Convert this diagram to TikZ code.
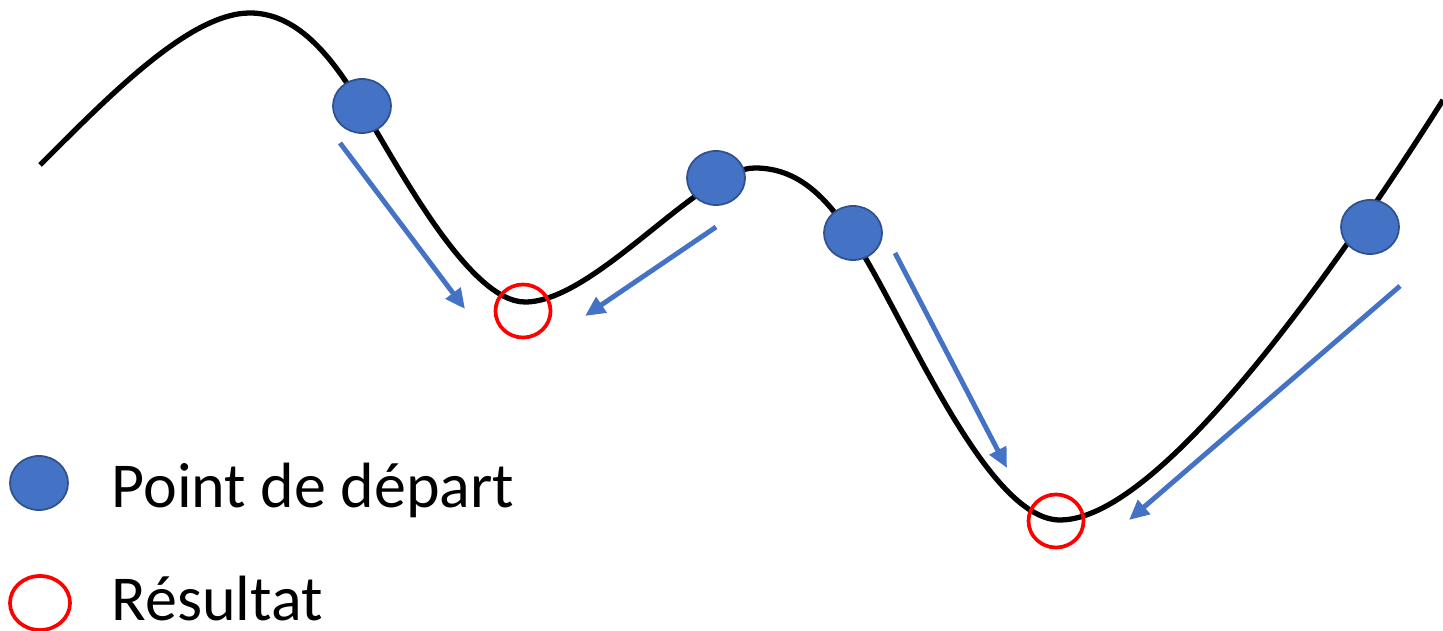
\documentclass[tikz,border=0pt]{standalone}
\usepackage{fontspec}
\setmainfont{Carlito}
\usetikzlibrary{shapes.geometric,arrows.meta}
\definecolor{ptblue}{HTML}{4472C4}
\definecolor{ptedge}{HTML}{2F528F}
\definecolor{resred}{HTML}{FF0000}
\tikzset{
  startpt/.style={ellipse, fill=ptblue, draw=ptedge, line width=0.5pt, minimum width=0.58cm, minimum height=0.54cm, inner sep=0pt},
  respt/.style={ellipse, draw=resred, line width=1.05pt, minimum width=0.55cm, minimum height=0.53cm, inner sep=0pt},
  descent/.style={draw=ptblue, line width=1.4pt, -{Triangle[length=0.2cm,width=0.18cm]}},
  curveline/.style={line width=1.5pt, black},
  legendtext/.style={anchor=base west, inner sep=0pt, font=\fontsize{18.2pt}{22pt}\selectfont}
}
\begin{document}
\begin{tikzpicture}[x=0.01cm,y=-0.01cm]
\useasboundingbox (0,0) rectangle (1443,631);
% landscape curve
\draw[curveline] (40,165) .. controls (110,95) and (190,13) .. (250,13)
  .. controls (300,13) and (335,62) .. (362,107)
  .. controls (400,170) and (470,302) .. (525,302)
  .. controls (595,302) and (700,168) .. (755,168)
  .. controls (800,168) and (828,200) .. (853,238)
  .. controls (903,313) and (985,520) .. (1060,520)
  .. controls (1170,520) and (1370,215) .. (1443,100);
% start points
\node[startpt] (s1) at (362,106) {};
\node[startpt] (s2) at (716,178) {};
\node[startpt] (s3) at (853,233) {};
\node[startpt] (s4) at (1370,227) {};
% results
\node[respt] (r1) at (523,311) {};
\node[respt] (r2) at (1056,521) {};
% arrow end points
\coordinate (a1s) at (340,143); \coordinate (a1e) at (465,309);
\coordinate (a2s) at (716,227); \coordinate (a2e) at (585,316);
\coordinate (a3s) at (895,253); \coordinate (a3e) at (1007,468);
\coordinate (a4s) at (1400,286); \coordinate (a4e) at (1129,520);
\draw[descent] (a1s) -- (a1e);
\draw[descent] (a2s) -- (a2e);
\draw[descent] (a3s) -- (a3e);
\draw[descent] (a4s) -- (a4e);
% legend
\node[startpt] (lg1) at (39,483) {};
\node[respt, minimum width=0.6cm, minimum height=0.54cm] (lg2) at (40,603) {};
\node[legendtext] (t1) at (111,508) {Point de départ};
\node[legendtext] (t2) at (111,620) {Résultat};
\end{tikzpicture}
\end{document}
